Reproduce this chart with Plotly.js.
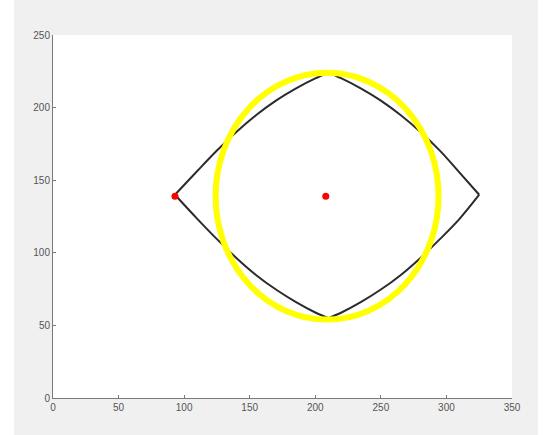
<!DOCTYPE html>
<html>
<head>
<meta charset="utf-8">
<script src="https://cdn.plot.ly/plotly-3.0.1.min.js"></script>
<style>
  html, body { margin: 0; padding: 0; background: #ffffff; width: 550px; height: 435px; overflow: hidden; }
  #plot { position: absolute; left: 14px; top: 0; width: 524px; height: 435px; }
</style>
</head>
<body>
<div id="plot"></div>
<script>
// Upper boundary of the eye shape: left vertex -> top cusp -> right vertex
const upperX = [93, 110, 125, 140, 155, 170, 185, 200, 210, 220, 235, 250, 265, 280, 295, 309, 325];
const upperY = [140, 156.3, 170.4, 183.4, 194.9, 204.8, 213.1, 220.1, 224, 220.1, 213.1, 204.8, 194.9, 183.4, 170.4, 156.3, 140];

// Lower boundary: left vertex -> bottom cusp -> right vertex
const lowerX = [93, 110, 125, 140, 155, 170, 185, 200, 210, 220, 235, 250, 265, 280, 295, 310, 325];
const lowerY = [140, 123.4, 109.4, 96.3, 84.6, 74.7, 66.2, 58.9, 55, 58.9, 66.2, 74.7, 84.6, 96.3, 109.4, 123.4, 140];

// Red marker points: left vertex and circle centre
const pointX = [93, 208];
const pointY = [139, 139];

// Yellow circle
const circleCenter = [209, 139];
const circleRadius = 85;

// Axis ticks
const xTicks = [0, 50, 100, 150, 200, 250, 300, 350];
const yTicks = [0, 50, 100, 150, 200, 250];

const curveLine = { color: '#2b2b2b', width: 2, shape: 'spline', smoothing: 1 };

// Each boundary is split at its cusp so the two arcs meet in a point
function cuspIndex(ys, pickMax) {
  let k = 0;
  ys.forEach((v, i) => { if (pickMax ? v > ys[k] : v < ys[k]) k = i; });
  return k;
}
const ku = cuspIndex(upperY, true);
const kl = cuspIndex(lowerY, false);

const arcs = [
  [upperX.slice(0, ku + 1), upperY.slice(0, ku + 1)],
  [upperX.slice(ku), upperY.slice(ku)],
  [lowerX.slice(0, kl + 1), lowerY.slice(0, kl + 1)],
  [lowerX.slice(kl), lowerY.slice(kl)]
];

const traces = arcs.map(a => ({ x: a[0], y: a[1], mode: 'lines', line: curveLine, hoverinfo: 'skip' }));
traces.push({ x: pointX, y: pointY, mode: 'markers', marker: { color: '#ff0000', size: 7 }, hoverinfo: 'skip' });

const axisCommon = {
  showgrid: false,
  zeroline: false,
  showline: true,
  linecolor: '#7a7a7a',
  linewidth: 1,
  ticks: 'inside',
  ticklen: 3,
  tickcolor: '#7a7a7a',
  tickfont: { family: 'Liberation Sans, Arial, sans-serif', size: 10, color: '#555555' },
  mirror: false
};

const layout = {
  width: 524,
  height: 435,
  margin: { l: 39, r: 26, t: 35, b: 37 },
  paper_bgcolor: '#f0f0f0',
  plot_bgcolor: '#ffffff',
  showlegend: false,
  xaxis: Object.assign({}, axisCommon, { range: [0, 350], tickvals: xTicks, ticktext: xTicks.map(String), fixedrange: true }),
  yaxis: Object.assign({}, axisCommon, { range: [0, 250], tickvals: yTicks, ticktext: yTicks.map(String), fixedrange: true }),
  shapes: [{
    type: 'circle',
    xref: 'x', yref: 'y',
    x0: circleCenter[0] - circleRadius, x1: circleCenter[0] + circleRadius,
    y0: circleCenter[1] - circleRadius, y1: circleCenter[1] + circleRadius,
    line: { color: '#ffff00', width: 6 },
    layer: 'above'
  }]
};

Plotly.newPlot('plot', traces, layout, { displayModeBar: false, staticPlot: true });
</script>
</body>
</html>
